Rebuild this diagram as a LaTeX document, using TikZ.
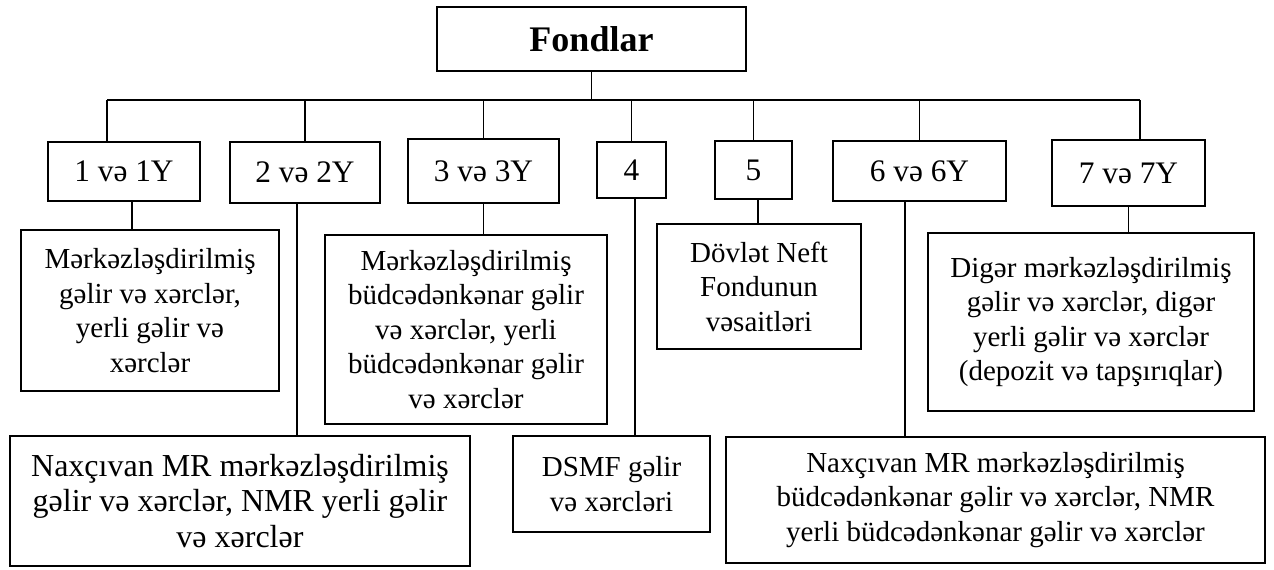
\documentclass[tikz,border=0pt]{standalone}
\usepackage{fontspec}
\setmainfont{Liberation Serif}

\begin{document}
\begin{tikzpicture}[x=0.75pt,y=-0.75pt,line width=1.1pt,
 box/.style={draw,align=center,inner sep=0pt,
 font=\fontsize{21.75}{25.9}\selectfont},
 fund/.style={box,font=\fontsize{23.5}{27}\selectfont}]
\useasboundingbox (0,0) rectangle (1274,569);
\node[box,minimum width=231.75pt,minimum height=48pt,
 font=\fontsize{27}{31}\selectfont\bfseries] (top) at (591.5,39) {Fondlar};
\coordinate (busL) at (107,100);
\coordinate (busR) at (1140,100);
\node[fund,minimum width=114pt,minimum height=44.25pt] (n1) at (124,171.5) {1 və 1Y};
\node[fund,minimum width=112.5pt,minimum height=45.75pt] (n2) at (305,172.5) {2 və 2Y};
\node[fund,minimum width=113.25pt,minimum height=48pt] (n3) at (483.5,171) {3 və 3Y};
\node[fund,minimum width=51.75pt,minimum height=42pt] (n4) at (631.5,170) {4};
\node[fund,minimum width=57.75pt,minimum height=43.5pt] (n5) at (753.5,170) {5};
\node[fund,minimum width=129.75pt,minimum height=45pt] (n6) at (919.5,171) {6 və 6Y};
\node[fund,minimum width=114.75pt,minimum height=49.5pt] (n7) at (1128.5,173) {7 və 7Y};
\node[box,minimum width=193.5pt,minimum height=120.75pt] (m1) at (150,310.5)
 {Mərkəzləşdirilmiş\\gəlir və xərclər,\\yerli gəlir və\\xərclər};
\node[box,minimum width=211.5pt,minimum height=141.75pt] (m3) at (466,329.5)
 {Mərkəzləşdirilmiş\\büdcədənkənar gəlir\\və xərclər, yerli\\büdcədənkənar gəlir\\və xərclər};
\node[box,minimum width=153pt,minimum height=93.75pt] (m5) at (759,286.5)
 {Dövlət Neft\\Fondunun\\vəsaitləri};
\node[box,minimum width=244.5pt,minimum height=133.5pt] (m7) at (1091,322)
 {Digər mərkəzləşdirilmiş\\gəlir və xərclər, digər\\yerli gəlir və xərclər\\(depozit və tapşırıqlar)};
\node[box,minimum width=345pt,minimum height=97.5pt,
 font=\fontsize{24}{26.5}\selectfont] (b2) at (240,501)
 {Naxçıvan MR mərkəzləşdirilmiş\\gəlir və xərclər, NMR yerli gəlir\\və xərclər};
\node[box,minimum width=147.75pt,minimum height=72pt] (b4) at (611.5,484)
 {DSMF gəlir\\və xərcləri};
\node[box,minimum width=404.25pt,minimum height=94.5pt] (b6) at (995.5,500)
 {Naxçıvan MR mərkəzləşdirilmiş\\büdcədənkənar gəlir və xərclər, NMR\\yerli büdcədənkənar gəlir və xərclər};
\draw (top.south) -- (top.south |- busL);
\draw (busL) -- (busR);
\draw (busL) -- (busL |- n1.north);
\foreach \n in {n2,n3,n4,n5,n6}
 \draw (\n.north) -- (\n.north |- busL);
\draw (busR) -- (busR |- n7.north);
\foreach \a/\b/\s in {n1/m1/6,n2/b2/-6,n3/m3/0,n4/b4/2.6,n5/m5/3.4,n6/b6/-10.9,n7/m7/0}
 \draw ([xshift=\s pt]\a.south) coordinate (s) -- (s |- \b.north);
\end{tikzpicture}
\end{document}
